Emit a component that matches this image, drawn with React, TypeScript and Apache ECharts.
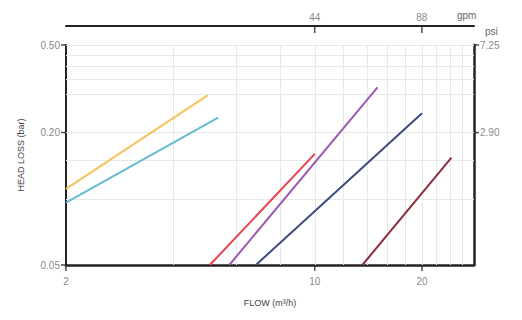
import { useEffect, useRef } from 'react';
import * as echarts from 'echarts';

// ---- axis ranges / ticks ----
const X_MIN = 2;
const X_MAX = 28;
const Y_MIN = 0.05;
const Y_MAX = 0.5;
const M3H_TO_GPM = 4.403;
const BAR_TO_PSI = 14.5038;

const flowTicks = [2, 10, 20];
const gpmTicks = [44, 88];
const lossTicks = [0.5, 0.2, 0.05];
const psiTicks = [7.25, 2.9];
const flowGrid = [4, 6, 8, 10, 12, 14, 16, 18, 20, 22, 24, 26];
const lossGrid = [0.1, 0.15, 0.2, 0.3, 0.35, 0.4, 0.45, 0.5];

// ---- series (flow m3/h, head loss bar) ----
const yellowFlow = [2, 5.0];
const yellowLoss = [0.111, 0.295];
const tealFlow = [2, 5.35];
const tealLoss = [0.096, 0.234];
const redFlow = [5.07, 10];
const redLoss = [0.05, 0.16];
const purpleFlow = [5.75, 15];
const purpleLoss = [0.05, 0.321];
const navyFlow = [6.83, 20];
const navyLoss = [0.05, 0.245];
const maroonFlow = [13.6, 24.2];
const maroonLoss = [0.05, 0.154];

const FONT = '"Liberation Sans", Arial, sans-serif';
const NARROW = '"Liberation Sans Narrow", "Liberation Sans", Arial, sans-serif';

const pairs = (xs: number[], ys: number[]) => xs.map((x, i) => [x, ys[i]]);

const lineSeries = (name: string, xs: number[], ys: number[], color: string, extra: any = {}) => ({
  type: 'line',
  name,
  data: pairs(xs, ys),
  showSymbol: false,
  symbol: 'none',
  silent: true,
  z: 3,
  lineStyle: { color, width: 2 },
  itemStyle: { color },
  ...extra,
});

const tickSeries = (
  name: string,
  data: number[][],
  xi: number,
  yi: number,
  size: number[],
  offset: number[],
  position: string,
  distance: number,
  fmt: (p: any) => string
) => ({
  type: 'scatter',
  name,
  xAxisIndex: xi,
  yAxisIndex: yi,
  data,
  symbol: 'rect',
  symbolSize: size,
  symbolOffset: offset,
  clip: false,
  silent: true,
  z: 5,
  itemStyle: { color: '#222' },
  label: {
    show: true,
    position,
    distance,
    formatter: fmt,
    color: '#666',
    fontSize: 10,
    fontFamily: FONT,
  },
  emphasis: { disabled: true },
});

const hiddenAxisParts = {
  axisTick: { show: false },
  axisLabel: { show: false },
  splitLine: { show: false },
  minorTick: { show: false },
  minorSplitLine: { show: false },
};

export default function App() {
  const ref = useRef<HTMLDivElement>(null);

  useEffect(() => {
    if (!ref.current) return;
    const chart = echarts.init(ref.current, null, { renderer: 'svg' });

    const option: any = {
      animation: false,
      backgroundColor: '#ffffff',
      tooltip: { show: false },
      grid: { left: 66, right: 48, top: 45, bottom: 55, containLabel: false },
      xAxis: [
        {
          type: 'log',
          logBase: 10,
          min: X_MIN,
          max: X_MAX,
          position: 'bottom',
          axisLine: { show: true, onZero: false, lineStyle: { color: '#222', width: 2.5 } },
          ...hiddenAxisParts,
          name: 'FLOW (m³/h)',
          nameLocation: 'middle',
          nameGap: 33,
          nameTextStyle: { color: '#444', fontSize: 9, fontFamily: NARROW },
        },
        {
          type: 'log',
          logBase: 10,
          min: X_MIN * M3H_TO_GPM,
          max: X_MAX * M3H_TO_GPM,
          position: 'top',
          offset: 19,
          axisLine: { show: true, onZero: false, lineStyle: { color: '#222', width: 2 } },
          ...hiddenAxisParts,
          name: 'gpm',
          nameLocation: 'end',
          nameGap: -17,
          nameTextStyle: {
            color: '#666',
            fontSize: 10,
            fontFamily: FONT,
            verticalAlign: 'bottom',
            padding: [0, 0, 6, 0],
          },
        },
      ],
      yAxis: [
        {
          type: 'log',
          logBase: 10,
          min: Y_MIN,
          max: Y_MAX,
          position: 'left',
          axisLine: { show: true, onZero: false, lineStyle: { color: '#222', width: 2 } },
          ...hiddenAxisParts,
          name: 'HEAD LOSS (bar)',
          nameLocation: 'middle',
          nameGap: 41,
          nameRotate: 90,
          nameTextStyle: { color: '#444', fontSize: 9, fontFamily: NARROW },
        },
        {
          type: 'log',
          logBase: 10,
          min: Y_MIN * BAR_TO_PSI,
          max: Y_MAX * BAR_TO_PSI,
          position: 'right',
          axisLine: { show: true, onZero: false, lineStyle: { color: '#222', width: 2.5 } },
          ...hiddenAxisParts,
          name: 'psi',
          nameLocation: 'end',
          nameGap: 9,
          nameTextStyle: {
            color: '#666',
            fontSize: 10,
            fontFamily: FONT,
            align: 'left',
            padding: [0, 0, 0, 11],
          },
        },
      ],
      series: [
        lineSeries('yellow', yellowFlow, yellowLoss, '#f3c35a', {
          markLine: {
            silent: true,
            symbol: ['none', 'none'],
            z: 1,
            label: { show: false },
            emphasis: { disabled: true },
            lineStyle: { color: '#e8e8e8', width: 1, type: 'solid' },
            data: [
              ...flowGrid.map((v) => ({ xAxis: v })),
              ...lossGrid.map((v) => ({ yAxis: v })),
            ],
          },
        }),
        lineSeries('teal', tealFlow, tealLoss, '#62bcd3'),
        lineSeries('red', redFlow, redLoss, '#e8424e'),
        lineSeries('purple', purpleFlow, purpleLoss, '#9b58b5'),
        lineSeries('navy', navyFlow, navyLoss, '#3c4a7e'),
        lineSeries('maroon', maroonFlow, maroonLoss, '#8c2c3c'),
        tickSeries(
          'flowTicks',
          flowTicks.map((v) => [v, Y_MIN]),
          0, 0, [1.5, 6], [0, 3], 'bottom', 5,
          (p: any) => String(p.value[0])
        ),
        tickSeries(
          'lossTicks',
          lossTicks.map((v) => [X_MIN, v]),
          0, 0, [5, 1.5], [-2.5, 0], 'left', 1,
          (p: any) => Number(p.value[1]).toFixed(2)
        ),
        tickSeries(
          'psiTicks',
          psiTicks.map((v) => [X_MAX, v]),
          0, 1, [5, 1.5], [2.5, 0], 'right', 1,
          (p: any) => Number(p.value[1]).toFixed(2)
        ),
        tickSeries(
          'gpmTicks',
          gpmTicks.map((v) => [v, Y_MAX]),
          1, 0, [1.5, 7], [0, -15.5], 'top', 4,
          (p: any) => String(p.value[0])
        ),
      ],
    };

    chart.setOption(option);
    return () => chart.dispose();
  }, []);

  return (
    <div
      ref={ref}
      style={{ position: 'absolute', left: 0, top: 0, width: 522, height: 320, background: '#fff' }}
    />
  );
}
